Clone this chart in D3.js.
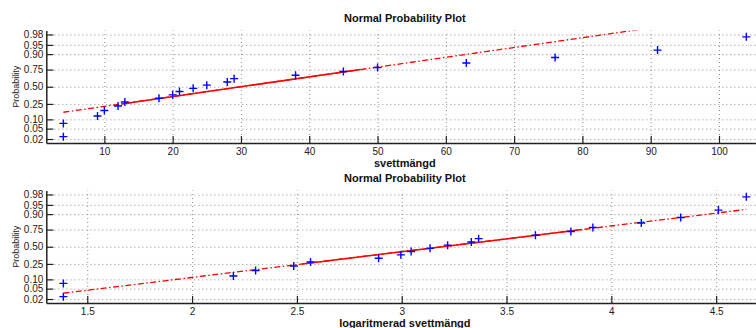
<!DOCTYPE html>
<html>
<head>
<meta charset="utf-8">
<script src="https://cdn.jsdelivr.net/npm/d3@7"></script>
<style>
  body { margin: 0; background: #fff; }
  svg { display: block; font-family: "Liberation Sans", Arial, sans-serif; }
</style>
</head>
<body>
<svg id="chart" width="756" height="328"></svg>
<script>
// observed sweat amounts, sorted
const sweat = [4, 4, 9, 10, 12, 13, 18, 20, 21, 23, 25, 28, 29, 38, 45, 50, 63, 76, 91, 104];
const logSweat = [1.386, 1.386, 2.197, 2.303, 2.485, 2.565, 2.890, 2.996, 3.045, 3.135,
                  3.219, 3.332, 3.367, 3.638, 3.807, 3.912, 4.143, 4.331, 4.511, 4.644];
// plotting positions (i-0.5)/n
const plotProbs = [0.025, 0.075, 0.125, 0.175, 0.225, 0.275, 0.325, 0.375, 0.425, 0.475,
                   0.525, 0.575, 0.625, 0.675, 0.725, 0.775, 0.825, 0.875, 0.925, 0.975];

const probTicks = [0.02, 0.05, 0.10, 0.25, 0.50, 0.75, 0.90, 0.95, 0.98];
const probTickLabels = ["0.02", "0.05", "0.10", "0.25", "0.50", "0.75", "0.90", "0.95", "0.98"];
const sweatTicks = [10, 20, 30, 40, 50, 60, 70, 80, 90, 100];
const logTicks = [1.5, 2, 2.5, 3, 3.5, 4, 4.5];
const logTickLabels = ["1.5", "2", "2.5", "3", "3.5", "4", "4.5"];

// inverse normal cdf (Acklam)
function probit(p) {
    const a = [-3.969683028665376e+01, 2.209460984245205e+02, -2.759285104469687e+02, 1.383577518672690e+02, -3.066479806614716e+01, 2.506628277459239e+00];
    const b = [-5.447609879822406e+01, 1.615858368580409e+02, -1.556989798598866e+02, 6.680131188771720e+01, -1.328068155288572e+01];
    const c = [-7.784894002430293e-03, -3.223964580411365e-01, -2.400758277161838e+00, -2.549732539343734e+00, 4.374664141464968e+00, 2.938163982698783e+00];
    const d = [7.784695709041462e-03, 3.224671290700398e-01, 2.445134137142996e+00, 3.754408661907416e+00];
    const pl = 0.02425;
    let q, r;
    if (p < pl) {
        q = Math.sqrt(-2 * Math.log(p));
        return (((((c[0]*q+c[1])*q+c[2])*q+c[3])*q+c[4])*q+c[5]) / ((((d[0]*q+d[1])*q+d[2])*q+d[3])*q+1);
    }
    if (p <= 1 - pl) {
        q = p - 0.5; r = q * q;
        return (((((a[0]*r+a[1])*r+a[2])*r+a[3])*r+a[4])*r+a[5])*q / (((((b[0]*r+b[1])*r+b[2])*r+b[3])*r+b[4])*r+1);
    }
    q = Math.sqrt(-2 * Math.log(1 - p));
    return -(((((c[0]*q+c[1])*q+c[2])*q+c[3])*q+c[4])*q+c[5]) / ((((d[0]*q+d[1])*q+d[2])*q+d[3])*q+1);
}

// matlab-style percentile
function prctile(sorted, p) {
    const n = sorted.length;
    const pos = n * p + 0.5;
    if (pos <= 1) return sorted[0];
    if (pos >= n) return sorted[n - 1];
    const i = Math.floor(pos);
    return sorted[i - 1] + (pos - i) * (sorted[i] - sorted[i - 1]);
}

const svg = d3.select("#chart");
const left = 46.3, right = 763.4;
const plotH = 112.5;

function drawPanel(idx, top, xs, ticks, tickLabels, xLabel) {
    const g = svg.append("g");
    const [lo, hi] = d3.extent(xs);
    const pad = 0.025 * (hi - lo);
    const x = d3.scaleLinear().domain([lo - pad, hi + pad]).range([left, right]);
    const y = d3.scaleLinear().domain([-2.21, 2.21]).range([top + plotH, top]);
    const zTicks = probTicks.map(probit);

    const clipId = "clip" + idx;
    g.append("clipPath").attr("id", clipId)
        .append("rect").attr("x", left).attr("y", top)
        .attr("width", right - left).attr("height", plotH);

    // grid
    g.append("g").attr("transform", `translate(0,${top + plotH})`)
        .call(d3.axisBottom(x).tickValues(ticks).tickSize(-plotH).tickFormat(""))
        .call(s => s.select(".domain").remove())
        .selectAll("line").attr("stroke", "#8a8a8a").attr("stroke-dasharray", "1,3");
    g.append("g").attr("transform", `translate(${left},0)`)
        .call(d3.axisLeft(y).tickValues(zTicks).tickSize(-(right - left)).tickFormat(""))
        .call(s => s.select(".domain").remove())
        .selectAll("line").attr("stroke", "#8a8a8a").attr("stroke-dasharray", "1,3");

    // reference line through quartiles
    const q1 = prctile(xs, 0.25), q3 = prctile(xs, 0.75);
    const z1 = probit(0.25), z3 = probit(0.75);
    const zAt = v => z1 + (v - q1) * (z3 - z1) / (q3 - q1);
    const line = d3.line().x(d => x(d)).y(d => y(zAt(d)));
    const lines = g.append("g").attr("clip-path", `url(#${clipId})`);
    lines.append("path").attr("d", line([lo, hi]))
        .attr("fill", "none").attr("stroke", "#ff0000").attr("stroke-width", 1.3)
        .attr("stroke-dasharray", "6,2.5,1.5,2.5");
    lines.append("path").attr("d", line([q1, q3]))
        .attr("fill", "none").attr("stroke", "#ff0000").attr("stroke-width", 1.5);

    // data markers
    g.append("g").selectAll("path.pt")
        .data(xs.map((v, i) => [v, probit(plotProbs[i])]))
        .join("path").attr("class", "pt")
        .attr("d", "M-4,0H4M0,-4V4")
        .attr("transform", d => `translate(${x(d[0])},${y(d[1])})`)
        .attr("fill", "none").attr("stroke", "#0000ff").attr("stroke-width", 1.4);

    // axes
    const xa = g.append("g").attr("transform", `translate(0,${top + plotH})`)
        .call(d3.axisBottom(x).tickValues(ticks).tickSizeInner(-7).tickSizeOuter(0)
            .tickPadding(5).tickFormat((d, i) => tickLabels[i]));
    const ya = g.append("g").attr("transform", `translate(${left},0)`)
        .call(d3.axisLeft(y).tickValues(zTicks).tickSizeInner(-7).tickSizeOuter(0)
            .tickPadding(3).tickFormat((d, i) => probTickLabels[i]));
    [xa, ya].forEach(a => {
        a.select(".domain").attr("stroke", "#222").attr("stroke-width", 1.5);
        a.selectAll(".tick line").attr("stroke", "#222").attr("stroke-width", 1.2);
        a.selectAll("text").attr("fill", "#222").style("font-size", "10px")
            .style("font-family", '"Liberation Sans", Arial, sans-serif');
    });

    const cx = (left + right) / 2;
    g.append("text").attr("x", cx).attr("y", top - 8.5)
        .attr("text-anchor", "middle").attr("font-weight", "bold").attr("font-size", 11)
        .attr("fill", "#111").text("Normal Probability Plot");
    g.append("text").attr("x", cx).attr("y", top + plotH + 23.5)
        .attr("text-anchor", "middle").attr("font-weight", "bold").attr("font-size", 11)
        .attr("fill", "#111").text(xLabel);
    g.append("text").attr("transform", `translate(18.5,${y(0)}) rotate(-90)`)
        .attr("text-anchor", "middle").attr("font-size", 9).attr("fill", "#222")
        .text("Probability");
}

drawPanel(0, 30.5, sweat, sweatTicks, sweatTicks.map(String), "svettmängd");
drawPanel(1, 190.5, logSweat, logTicks, logTickLabels, "logaritmerad svettmängd");
</script>
</body>
</html>
